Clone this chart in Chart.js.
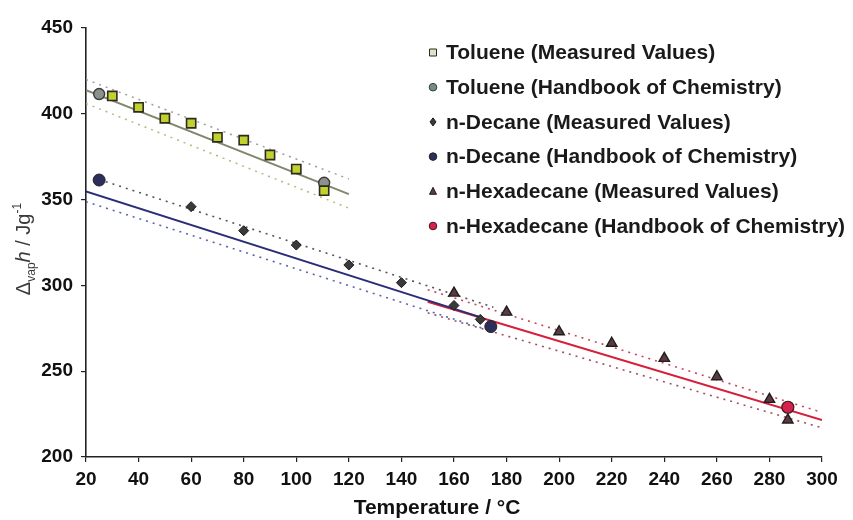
<!DOCTYPE html>
<html><head><meta charset="utf-8">
<script src="https://cdn.jsdelivr.net/npm/chart.js@4.4.0/dist/chart.umd.min.js"></script>
<style>html,body{margin:0;padding:0;background:#fff}canvas{display:block}</style>
</head><body>
<canvas id="c" width="853" height="520"></canvas>
<script>
// ---- data (temperature in °C, enthalpy of vaporisation in J/g) ----
const tolueneMeasT = [30, 40, 50, 60, 70, 80, 90, 100, 110.6];
const tolueneMeasV = [410.4, 403.8, 397.4, 394.5, 386.3, 384.6, 376.0, 367.8, 355.2];
const tolueneHbT = [25, 110.6];
const tolueneHbV = [411.5, 359.8];
const decaneMeasT = [60, 80, 100, 120, 140, 160, 170];
const decaneMeasV = [345.9, 331.9, 323.5, 311.9, 301.6, 288.3, 280.2];
const decaneHbT = [25, 174];
const decaneHbV = [361.4, 276.0];
const hexMeasT = [160, 180, 200, 220, 240, 260, 280, 287];
const hexMeasV = [295.5, 284.4, 273.0, 266.3, 257.5, 246.8, 233.6, 221.6];
const hexHbT = [287];
const hexHbV = [229.0];

// regression lines and their dotted bands (end points)
const tolueneFitT = [20, 120];
const tolueneFitV = [413.8, 353.2];
const tolueneUpperV = [420.0, 362.0];
const tolueneLowerV = [406.0, 345.0];
const decaneFitT = [20, 170];
const decaneFitV = [354.8, 281.5];
const decaneUpperT = [25, 175];
const decaneUpperV = [361.7, 287.3];
const decaneLowerT = [20, 175];
const decaneLowerV = [348.8, 273.0];
const hexFitT = [150, 300];
const hexFitV = [290.5, 221.5];
const hexUpperV = [297.5, 226.0];
const hexLowerV = [284.0, 217.0];

const xTicks = [20, 40, 60, 80, 100, 120, 140, 160, 180, 200, 220, 240, 260, 280, 300];
const yTicks = [200, 250, 300, 350, 400, 450];
const legendLabels = [
  'Toluene (Measured Values)',
  'Toluene (Handbook of Chemistry)',
  'n-Decane (Measured Values)',
  'n-Decane (Handbook of Chemistry)',
  'n-Hexadecane (Measured Values)',
  'n-Hexadecane (Handbook of Chemistry)'
];

const pts = (xs, ys) => xs.map((x, i) => ({x: x, y: ys[i]}));
const FONT = '"Liberation Sans", Arial, sans-serif';

const markerSets = [
  {label: legendLabels[0], data: pts(tolueneMeasT, tolueneMeasV), pointStyle: 'rect', pointRadius: 6.5,
   backgroundColor: '#c2d12e', borderColor: '#2b2b22', borderWidth: 1.6},
  {label: legendLabels[1], data: pts(tolueneHbT, tolueneHbV), pointStyle: 'circle', pointRadius: 5.5,
   backgroundColor: '#8d918c', borderColor: '#3a3a3a', borderWidth: 1.4},
  {label: legendLabels[2], data: pts(decaneMeasT, decaneMeasV), pointStyle: 'rectRot', pointRadius: 5,
   backgroundColor: '#3a3a3a', borderColor: '#1a1a1a', borderWidth: 1},
  {label: legendLabels[3], data: pts(decaneHbT, decaneHbV), pointStyle: 'circle', pointRadius: 6,
   backgroundColor: '#2c2f5c', borderColor: '#222', borderWidth: 1},
  {label: legendLabels[4], data: pts(hexMeasT, hexMeasV), pointStyle: 'triangle', pointRadius: 6,
   backgroundColor: '#5c3a42', borderColor: '#1e1e1e', borderWidth: 1.4},
  {label: legendLabels[5], data: pts(hexHbT, hexHbV), pointStyle: 'circle', pointRadius: 6,
   backgroundColor: '#d8204c', borderColor: '#3a1a1a', borderWidth: 1.2}
];
markerSets.forEach(d => { d.showLine = false; d.pointHoverRadius = d.pointRadius; });

function lineSet(xs, ys, color, width, dash) {
  return {label: '', data: pts(xs, ys), showLine: true, pointRadius: 0, borderColor: color,
          borderWidth: width, borderDash: dash || [], fill: false, tension: 0};
}
const lineSets = [
  lineSet(tolueneFitT, tolueneFitV, '#7f876c', 2),
  lineSet(tolueneFitT, tolueneUpperV, '#9c9f94', 1.5, [2, 5]),
  lineSet(tolueneFitT, tolueneLowerV, '#b4ba7c', 1.5, [2, 5]),
  lineSet(decaneFitT, decaneFitV, '#2a2e78', 2),
  lineSet(decaneUpperT, decaneUpperV, '#555560', 1.6, [2, 5]),
  lineSet(decaneLowerT, decaneLowerV, '#5a66b0', 1.6, [2, 5]),
  lineSet(hexFitT, hexFitV, '#d81e3a', 2),
  lineSet(hexFitT, hexUpperV, '#c84858', 1.6, [2, 5]),
  lineSet(hexFitT, hexLowerV, '#a05060', 1.6, [2, 5])
];

const deco = {
  id: 'deco',
  afterDraw(chart) {
    const ctx = chart.ctx;
    // y axis title with subscript / superscript
    ctx.save();
    ctx.translate(23, 249);
    ctx.rotate(-Math.PI / 2);
    const parts = [
      ['\u0394', '20px ' + FONT, 0],
      ['vap', '12px ' + FONT, 5],
      ['h', 'italic 20px ' + FONT, 0],
      [' / Jg', '20px ' + FONT, 0],
      ['-1', '12px ' + FONT, -9]
    ];
    let w = 0;
    parts.forEach(p => { ctx.font = p[1]; w += ctx.measureText(p[0]).width; });
    let x = -w / 2;
    ctx.fillStyle = '#3a3a3a';
    ctx.textBaseline = 'alphabetic';
    ctx.textAlign = 'left';
    parts.forEach(p => { ctx.font = p[1]; ctx.fillText(p[0], x, 7 + p[2]); x += ctx.measureText(p[0]).width; });
    ctx.restore();

    // x axis title
    ctx.save();
    ctx.font = 'bold 21px ' + FONT;
    ctx.fillStyle = '#111';
    ctx.textAlign = 'center';
    ctx.textBaseline = 'middle';
    ctx.fillText('Temperature / \u00B0C', 437, 508);
    ctx.restore();

    // legend
    ctx.save();
    const lx = 433, ly0 = 52.5, step = 34.7;
    chart.data.datasets.slice(0, 6).forEach((d, i) => {
      const y = ly0 + i * step;
      ctx.beginPath();
      ctx.fillStyle = d.backgroundColor;
      ctx.strokeStyle = d.borderColor;
      ctx.lineWidth = 1;
      if (d.pointStyle === 'rect') {
        ctx.rect(lx - 3.5, y - 3.5, 7, 7);
        ctx.fillStyle = '#dfe3c8';
      } else if (d.pointStyle === 'circle') {
        ctx.arc(lx, y, 3.8, 0, Math.PI * 2);
        if (i === 1) ctx.fillStyle = '#6f8f86';
      } else if (d.pointStyle === 'rectRot') {
        ctx.moveTo(lx, y - 4); ctx.lineTo(lx + 3, y); ctx.lineTo(lx, y + 4); ctx.lineTo(lx - 3, y); ctx.closePath();
      } else if (d.pointStyle === 'triangle') {
        ctx.moveTo(lx, y - 4); ctx.lineTo(lx + 3.5, y + 3); ctx.lineTo(lx - 3.5, y + 3); ctx.closePath();
      }
      ctx.fill(); ctx.stroke();
      ctx.font = 'bold 21px ' + FONT;
      ctx.fillStyle = '#1a1a1a';
      ctx.textAlign = 'left';
      ctx.textBaseline = 'middle';
      ctx.fillText(d.label, 446, y + 1);
    });
    ctx.restore();
  }
};

new Chart(document.getElementById('c'), {
  type: 'scatter',
  data: {datasets: markerSets.concat(lineSets)},
  options: {
    responsive: false,
    animation: false,
    devicePixelRatio: 1,
    layout: {padding: {top: 28, right: 31, left: 0, bottom: 0}},
    plugins: {legend: {display: false}, tooltip: {enabled: false}},
    scales: {
      x: {
        type: 'linear', min: 20, max: 300,
        afterBuildTicks: s => { s.ticks = xTicks.map(v => ({value: v})); },
        afterFit: s => { s.height = 63; },
        ticks: {font: {family: FONT, size: 19, weight: 'bold'}, color: '#111', padding: 6, maxRotation: 0, autoSkip: false},
        grid: {display: true, drawOnChartArea: false, drawTicks: true, tickLength: 5, color: '#222', lineWidth: 1.2},
        border: {display: true, color: '#222', width: 1.6}
      },
      y: {
        type: 'linear', min: 200, max: 450,
        afterBuildTicks: s => { s.ticks = yTicks.map(v => ({value: v})); },
        afterFit: s => { s.width = 86; },
        ticks: {font: {family: FONT, size: 19, weight: 'bold'}, color: '#111', padding: 8},
        grid: {display: true, drawOnChartArea: false, drawTicks: true, tickLength: 5, color: '#222', lineWidth: 1.2},
        border: {display: true, color: '#222', width: 1.6}
      }
    }
  },
  plugins: [deco]
});
</script>
</body></html>
